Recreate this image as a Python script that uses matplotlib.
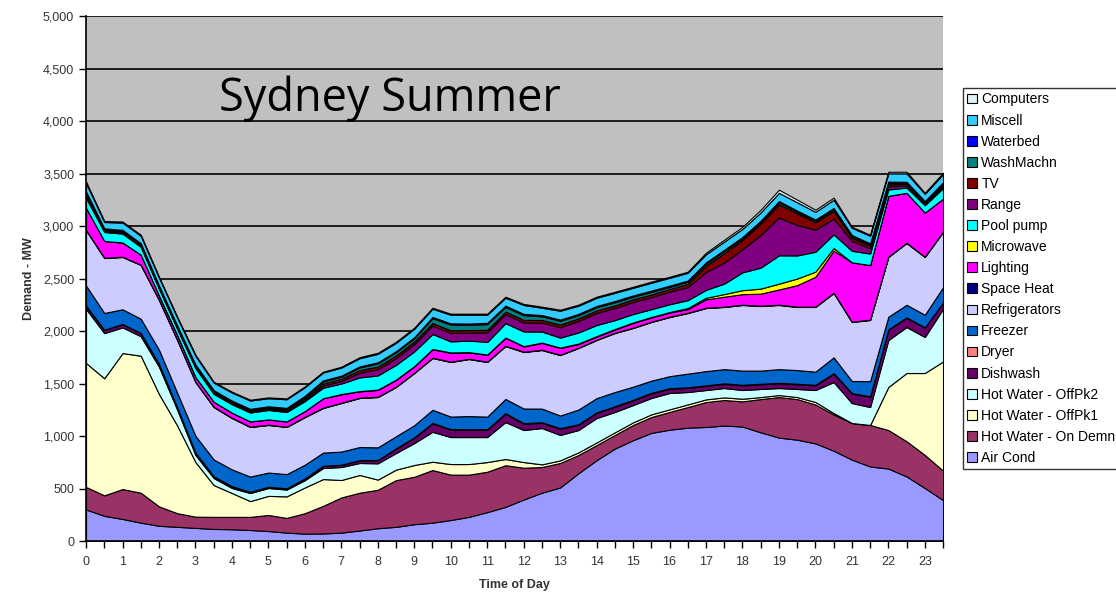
import numpy as np
import matplotlib
matplotlib.use("Agg")
import matplotlib.pyplot as plt
from matplotlib.ticker import MultipleLocator, FuncFormatter

plt.rcParams['font.family'] = ['Liberation Sans', 'DejaVu Sans']

# half-hour time steps
hours = np.arange(0, 24, 0.5)

air_cond = [300, 240, 210, 175, 145, 135, 125, 115, 112, 105, 95, 80,
            70, 72, 80, 100, 122, 135, 160, 175, 200, 230, 275, 325,
            395, 460, 510, 645, 770, 880, 960, 1030, 1060, 1080, 1086, 1100,
            1090, 1035, 985, 965, 930, 860, 775, 710, 690, 615, 505, 390]
hw_on_demn = [215, 195, 285, 285, 185, 130, 107, 115, 118, 125, 153, 140,
              195, 263, 335, 360, 366, 445, 452, 501, 432, 402, 385, 397,
              303, 245, 233, 174, 144, 130, 145, 151, 169, 196, 238, 243,
              240, 317, 386, 387, 370, 345, 349, 395, 367, 335, 315, 280]
hw_offpk1 = [1180, 1115, 1295, 1305, 1070, 835, 520, 303, 227, 150, 182, 205,
             245, 255, 166, 169, 97, 100, 112, 79, 101, 101, 92, 59,
             54, 25, 25, 25, 25, 25, 25, 25, 25, 25, 25, 25,
             25, 19, 19, 19, 24, 14, 0, 0, 410, 650, 780, 1040]
hw_offpk2 = [515, 430, 245, 185, 260, 150, 68, 67, 48, 77, 75, 65,
             70, 105, 124, 114, 155, 158, 209, 285, 257, 257, 238, 352,
             305, 346, 242, 213, 232, 194, 165, 156, 156, 118, 89, 89,
             83, 77, 67, 77, 114, 295, 190, 171, 447, 438, 343, 500]
dishwash = [30, 30, 30, 30, 25, 20, 20, 15, 15, 10, 10, 10,
            15, 20, 20, 25, 30, 40, 50, 80, 70, 70, 70, 80,
            60, 50, 60, 50, 50, 50, 45, 45, 40, 40, 40, 40,
            45, 45, 45, 45, 45, 80, 90, 100, 100, 90, 90, 60]
dryer = [2, 2, 2, 2, 2, 2, 2, 2, 2, 2, 2, 2,
         2, 2, 2, 2, 2, 5, 5, 5, 5, 5, 5, 5,
         5, 5, 5, 5, 5, 5, 5, 5, 5, 5, 5, 5,
         5, 5, 5, 5, 5, 5, 5, 2, 2, 2, 2, 2]
freezer = [190, 160, 140, 135, 135, 140, 160, 160, 160, 145, 135, 135,
           130, 125, 125, 125, 120, 115, 115, 125, 120, 125, 120, 135,
           140, 130, 120, 140, 135, 135, 125, 115, 115, 130, 135, 135,
           135, 125, 130, 130, 125, 150, 115, 145, 120, 120, 120, 145]
refrigerators = [528, 523, 498, 512, 473, 502, 512, 499, 489, 472, 453, 449,
                 453, 425, 462, 467, 479, 469, 497, 493, 520, 543, 520, 504,
                 538, 558, 576, 586, 553, 562, 559, 559, 563, 577, 601, 592,
                 625, 615, 611, 601, 616, 613, 562, 582, 569, 588, 550, 526]
space_heat = [3, 3, 3, 3, 3, 3, 3, 3, 3, 3, 3, 3,
              3, 3, 3, 3, 3, 3, 3, 3, 3, 3, 3, 3,
              3, 3, 3, 3, 3, 3, 3, 3, 3, 3, 3, 3,
              3, 3, 3, 3, 3, 3, 3, 3, 3, 3, 3, 3]
lighting = [210, 160, 135, 95, 40, 45, 45, 48, 48, 50, 50, 50,
            55, 90, 80, 60, 65, 65, 60, 80, 85, 60, 65, 75,
            50, 65, 65, 35, 30, 30, 45, 40, 40, 35, 80, 95,
            100, 115, 145, 205, 285, 400, 565, 520, 580, 475, 420, 315]
microwave = [0, 0, 0, 0, 0, 0, 0, 0, 0, 0, 0, 0,
             0, 0, 3, 3, 3, 3, 3, 3, 3, 3, 3, 3,
             3, 3, 3, 5, 5, 5, 5, 5, 5, 10, 15, 25,
             38, 48, 55, 63, 48, 25, 0, 0, 0, 0, 0, 0]
pool_pump = [95, 85, 85, 75, 65, 60, 85, 75, 80, 85, 90, 90,
             95, 100, 100, 130, 135, 140, 140, 143, 105, 110, 120, 137,
             140, 105, 95, 105, 105, 85, 80, 74, 74, 75, 75, 100,
             170, 200, 270, 220, 190, 130, 110, 110, 60, 50, 70, 100]
range_ = [10, 5, 5, 5, 5, 5, 5, 5, 5, 5, 5, 5,
          10, 20, 25, 45, 60, 65, 70, 80, 80, 75, 90, 85,
          85, 85, 100, 110, 115, 115, 115, 115, 120, 125, 170, 200,
          220, 310, 360, 290, 210, 150, 95, 50, 30, 20, 10, 15]
tv = [15, 10, 10, 10, 10, 10, 10, 10, 10, 10, 10, 12,
      15, 20, 20, 25, 25, 25, 25, 25, 25, 25, 25, 25,
      25, 25, 25, 25, 25, 25, 25, 25, 25, 30, 60, 90,
      90, 110, 125, 110, 70, 75, 30, 25, 20, 15, 10, 15]
washmachn = [20, 10, 10, 10, 8, 8, 10, 10, 10, 10, 10, 12,
             15, 20, 20, 25, 30, 30, 30, 45, 55, 50, 55, 45,
             45, 35, 35, 30, 30, 30, 25, 25, 20, 20, 20, 20,
             15, 15, 20, 15, 15, 15, 15, 12, 15, 10, 10, 15]
waterbed = [15, 10, 10, 10, 8, 8, 10, 10, 10, 10, 10, 10,
            10, 10, 10, 10, 10, 10, 10, 12, 12, 12, 12, 12,
            12, 12, 12, 12, 12, 12, 12, 12, 12, 12, 12, 12,
            12, 12, 12, 12, 12, 12, 10, 10, 10, 10, 10, 10]
miscell = [80, 60, 70, 70, 75, 75, 82, 72, 77, 79, 77, 82,
           82, 75, 77, 78, 81, 80, 81, 78, 82, 84, 77, 75,
           85, 70, 84, 78, 78, 78, 73, 75, 75, 74, 77, 78,
           77, 79, 78, 79, 73, 78, 69, 72, 79, 81, 69, 77]
computers = [15, 10, 10, 10, 8, 8, 10, 8, 8, 8, 8, 8,
             8, 8, 8, 10, 10, 10, 10, 10, 10, 10, 10, 10,
             10, 10, 10, 10, 10, 10, 10, 10, 10, 10, 15, 18,
             20, 25, 30, 25, 20, 20, 10, 10, 15, 15, 10, 15]

series = [air_cond, hw_on_demn, hw_offpk1, hw_offpk2, dishwash, dryer,
          freezer, refrigerators, space_heat, lighting, microwave, pool_pump,
          range_, tv, washmachn, waterbed, miscell, computers]
labels = ['Air Cond', 'Hot Water - On Demn', 'Hot Water - OffPk1',
          'Hot Water - OffPk2', 'Dishwash', 'Dryer', 'Freezer',
          'Refrigerators', 'Space Heat', 'Lighting', 'Microwave',
          'Pool pump', 'Range', 'TV', 'WashMachn', 'Waterbed', 'Miscell',
          'Computers']
colors = ['#9999FF', '#993366', '#FFFFCC', '#CCFFFF', '#660066', '#FF8080',
          '#0066CC', '#CCCCFF', '#000080', '#FF00FF', '#FFFF00', '#00FFFF',
          '#800080', '#800000', '#008080', '#0000FF', '#33CCFF', '#DDF2F2']

fig = plt.figure(figsize=(11.16, 5.94), dpi=100)
ax = fig.add_axes([0.0771, 0.0892, 0.7679, 0.8838])
ax.set_facecolor('#C0C0C0')

polys = ax.stackplot(hours, np.array(series), colors=colors,
                     edgecolor='black', linewidth=0.8, zorder=3)

ax.set_xlim(0, 23.5)
ax.set_ylim(0, 5000)
ax.yaxis.set_major_locator(MultipleLocator(500))
ax.yaxis.set_major_formatter(FuncFormatter(lambda v, p: '{:,.0f}'.format(v)))
ax.xaxis.set_major_locator(MultipleLocator(1))
ax.xaxis.set_minor_locator(MultipleLocator(0.5))
ax.grid(axis='y', color='black', linewidth=1.2, zorder=1)
ax.set_axisbelow(True)

for s in ['top', 'right']:
    ax.spines[s].set_visible(False)
for s in ['left', 'bottom']:
    ax.spines[s].set_color('black')
    ax.spines[s].set_linewidth(1.2)
    ax.spines[s].set_zorder(5)

ax.tick_params(axis='both', which='both', direction='out', length=5,
               width=1, labelsize=9, labelcolor='#333333')
ax.tick_params(axis='x', which='major', pad=6)

ax.set_xlabel('Time of Day', fontsize=9, fontweight='bold',
              color='#333333', labelpad=8)
ax.set_ylabel('Demand - MW', fontsize=9, fontweight='bold',
              color='#333333', labelpad=6)

ax.text(3.65, 4215, 'Sydney Summer', fontsize=32.5, family='Open Sans',
        va='center', ha='left', color='black', zorder=6)

leg = fig.legend(polys[::-1], labels[::-1], loc='upper left',
                 bbox_to_anchor=(963 / 1116, 1 - 88 / 594),
                 fontsize=10, frameon=True, fancybox=False,
                 edgecolor='black', handlelength=0.7, handleheight=0.7,
                 handletextpad=0.3, labelspacing=0.51, borderpad=0.32,
                 borderaxespad=0)
leg.get_frame().set_linewidth(1.0)

fig.savefig('out.png', dpi=100)
